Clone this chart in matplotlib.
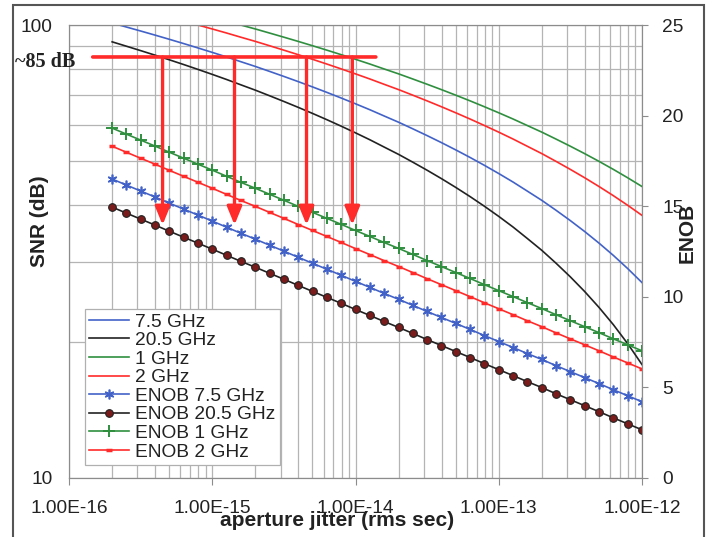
import matplotlib
matplotlib.use('Agg')
import matplotlib.pyplot as plt
import matplotlib.ticker as mticker
from matplotlib.patches import Rectangle

plt.rcParams['font.family'] = ['Liberation Sans', 'DejaVu Sans']

# aperture jitter (rms sec), 0.1 decade steps
jitter = [2.0e-16, 2.51e-16, 3.16e-16, 3.98e-16, 5.01e-16, 6.31e-16, 7.94e-16,
          1.0e-15, 1.26e-15, 1.58e-15, 2.0e-15, 2.51e-15, 3.16e-15, 3.98e-15, 5.01e-15, 6.31e-15, 7.94e-15,
          1.0e-14, 1.26e-14, 1.58e-14, 2.0e-14, 2.51e-14, 3.16e-14, 3.98e-14, 5.01e-14, 6.31e-14, 7.94e-14,
          1.0e-13, 1.26e-13, 1.58e-13, 2.0e-13, 2.51e-13, 3.16e-13, 3.98e-13, 5.01e-13, 6.31e-13, 7.94e-13,
          1.0e-12]
x_ticks = [1e-16, 1e-15, 1e-14, 1e-13, 1e-12]

# SNR (dB)
snr_7g5 = [101, 99, 97, 95, 93, 91, 89, 87, 85, 83, 81, 79, 77, 75, 73, 71, 69, 67, 65, 63,
           61, 59, 57, 55, 53, 51, 49, 47, 45, 43, 41, 39, 37, 35, 33, 31, 29, 27]
snr_20g5 = [91.8, 89.8, 87.8, 85.8, 83.8, 81.8, 79.8, 77.8, 75.8, 73.8, 71.8, 69.8, 67.8, 65.8,
            63.8, 61.8, 59.8, 57.8, 55.8, 53.8, 51.8, 49.8, 47.8, 45.8, 43.8, 41.8, 39.8, 37.8,
            35.8, 33.8, 31.8, 29.8, 27.8, 25.8, 23.8, 21.8, 19.8, 17.8]
snr_1g = [118, 116, 114, 112, 110, 108, 106, 104, 102, 100, 98, 96, 94, 92, 90, 88, 86, 84, 82, 80,
          78, 76, 74, 72, 70, 68, 66, 64, 62, 60, 58, 56, 54, 52, 50, 48, 46, 44]
snr_2g = [112, 110, 108, 106, 104, 102, 100, 98, 96, 94, 92, 90, 88, 86, 84, 82, 80, 78, 76, 74,
          72, 70, 68, 66, 64, 62, 60, 58, 56, 54, 52, 50, 48, 46, 44, 42, 40, 38]

# ENOB
enob_7g5 = [16.50, 16.17, 15.84, 15.51, 15.17, 14.84, 14.51, 14.18, 13.84, 13.51, 13.18, 12.85, 12.52,
            12.18, 11.85, 11.52, 11.19, 10.85, 10.52, 10.19, 9.86, 9.53, 9.19, 8.86, 8.53, 8.20, 7.86,
            7.53, 7.20, 6.87, 6.54, 6.20, 5.87, 5.54, 5.21, 4.87, 4.54, 4.21]
enob_20g5 = [14.95, 14.62, 14.29, 13.96, 13.62, 13.29, 12.96, 12.63, 12.29, 11.96, 11.63, 11.30, 10.97,
             10.63, 10.30, 9.97, 9.64, 9.30, 8.97, 8.64, 8.31, 7.98, 7.64, 7.31, 6.98, 6.65, 6.31,
             5.98, 5.65, 5.32, 4.99, 4.65, 4.32, 3.99, 3.66, 3.32, 2.99, 2.66]
enob_1g = [19.31, 18.98, 18.65, 18.32, 17.98, 17.65, 17.32, 16.99, 16.65, 16.32, 15.99, 15.66, 15.33,
           14.99, 14.66, 14.33, 14.00, 13.66, 13.33, 13.00, 12.67, 12.34, 12.00, 11.67, 11.34, 11.01,
           10.67, 10.34, 10.01, 9.68, 9.35, 9.01, 8.68, 8.35, 8.02, 7.68, 7.35, 7.02]
enob_2g = [18.31, 17.98, 17.65, 17.32, 16.98, 16.65, 16.32, 15.99, 15.65, 15.32, 14.99, 14.66, 14.33,
           13.99, 13.66, 13.33, 13.00, 12.66, 12.33, 12.00, 11.67, 11.34, 11.00, 10.67, 10.34, 10.01,
           9.67, 9.34, 9.01, 8.68, 8.35, 8.01, 7.68, 7.35, 7.02, 6.68, 6.35, 6.02]

# ~85 dB marker line and arrows
level_db = 85
level_span = [1.40e-16, 1.45e-14]
arrow_x = [4.5e-16, 1.43e-15, 4.55e-15, 9.5e-15]
arrow_end_db = 36.2

blue = '#4262c8'
black = '#222222'
green = '#2f8f3f'
red = '#ff2a2a'
txt = '#222222'

fig = plt.figure(figsize=(7.11, 5.37), dpi=100)
ax = fig.add_axes([69/711, 1-478/537, (642-69)/711, (478-25)/537])
ax2 = ax.twinx()

l1, = ax.plot(jitter, snr_7g5, color=blue, lw=1.2, label='7.5 GHz')
l2, = ax.plot(jitter, snr_20g5, color=black, lw=1.2, label='20.5 GHz')
l3, = ax.plot(jitter, snr_1g, color=green, lw=1.2, label='1 GHz')
l4, = ax.plot(jitter, snr_2g, color=red, lw=1.2, label='2 GHz')

e1, = ax2.plot(jitter, enob_7g5, color=blue, lw=1.2, marker=(6, 2, 0), ms=7, mew=1.2,
               label='ENOB 7.5 GHz')
e2, = ax2.plot(jitter, enob_20g5, color=black, lw=1.2, marker='o', ms=5.5, mfc='#7a1c1c',
               mec=black, mew=0.8, label='ENOB 20.5 GHz')
e3, = ax2.plot(jitter, enob_1g, color=green, lw=1.2, marker='+', ms=8, mew=1.4,
               label='ENOB 1 GHz')
e4, = ax2.plot(jitter, enob_2g, color=red, lw=1.2, marker='_', ms=5, mew=2.5,
               label='ENOB 2 GHz')

ax.set_xscale('log')
ax.set_yscale('log')
ax.set_xlim(1e-16, 1e-12)
ax.set_ylim(10, 100)
ax2.set_ylim(0, 25)
ax2.set_yticks([0, 5, 10, 15, 20, 25])

ax.xaxis.set_major_locator(mticker.FixedLocator(x_ticks))
ax.xaxis.set_minor_locator(mticker.LogLocator(base=10, subs=range(2, 10), numticks=20))
ax.xaxis.set_major_formatter(mticker.FuncFormatter(lambda v, p: f'{v:.2E}'))
ax.xaxis.set_minor_formatter(mticker.NullFormatter())
ax.yaxis.set_major_locator(mticker.FixedLocator([10, 100]))
ax.yaxis.set_major_formatter(mticker.FuncFormatter(lambda v, p: f'{v:g}'))
ax.yaxis.set_minor_formatter(mticker.NullFormatter())

ax.grid(which='both', color='#b4b4b4', lw=0.9)
ax.set_axisbelow(True)
for a in (ax, ax2):
    for s in a.spines.values():
        s.set_color('#8c8c8c')
ax.tick_params(axis='x', which='major', labelsize=13.8, pad=10.5, length=5, color='#8c8c8c', labelcolor=txt)
ax.tick_params(axis='x', which='minor', length=0)
ax.tick_params(axis='y', which='both', labelsize=13.8, pad=12, length=0, labelcolor=txt)
ax2.tick_params(axis='y', labelsize=13.8, pad=10.4, length=4, color='#8c8c8c', labelcolor=txt)

# ~85 dB level and arrows
ax2.annotate('', xy=(level_span[1], level_db), xytext=(level_span[0], level_db),
             xycoords=ax.transData, textcoords=ax.transData,
             arrowprops=dict(arrowstyle='-', color=red, lw=2.6))
for xa in arrow_x:
    ax2.annotate('', xy=(xa, arrow_end_db), xytext=(xa, level_db),
                 xycoords=ax.transData, textcoords=ax.transData,
                 arrowprops=dict(arrowstyle='-|>,head_width=0.45,head_length=1.1',
                                 color=red, lw=2.4, shrinkA=0, shrinkB=0))

fig.text(45/711, 1-62/537, '~85 dB', family='Liberation Serif', weight='bold', fontsize=14.5,
         ha='center', va='center', color=txt)

fig.text(39.5/711, 1-221/537, 'SNR (dB)', rotation=90, weight='bold', fontsize=15,
         ha='center', va='center', color=txt)
fig.text(687/711, 1-233/537, 'ENOB', rotation=90, weight='bold', fontsize=15,
         ha='center', va='center', color=txt)
fig.text(337.5/711, 1-520/537, 'aperture jitter (rms sec)', weight='bold', fontsize=15,
         ha='center', va='center', color=txt)

leg = ax2.legend(handles=[l1, l2, l3, l4, e1, e2, e3, e4], loc='upper left',
                 bbox_to_anchor=(85/711, 1-309/537), bbox_transform=fig.transFigure,
                 borderaxespad=0, fontsize=13.8, labelspacing=0.06, handlelength=2.1,
                 handletextpad=0.3, borderpad=0.22, fancybox=False, framealpha=1)
leg.get_frame().set_edgecolor('#b0b0b0')
leg.get_frame().set_linewidth(0.9)
for t in leg.get_texts():
    t.set_color(txt)

fig.patches.append(Rectangle((13/711, -0.05), (704-13)/711, 1.05-5/537, transform=fig.transFigure,
                             fill=False, edgecolor='#555555', lw=1.5))

fig.savefig('out.png', dpi=100)
